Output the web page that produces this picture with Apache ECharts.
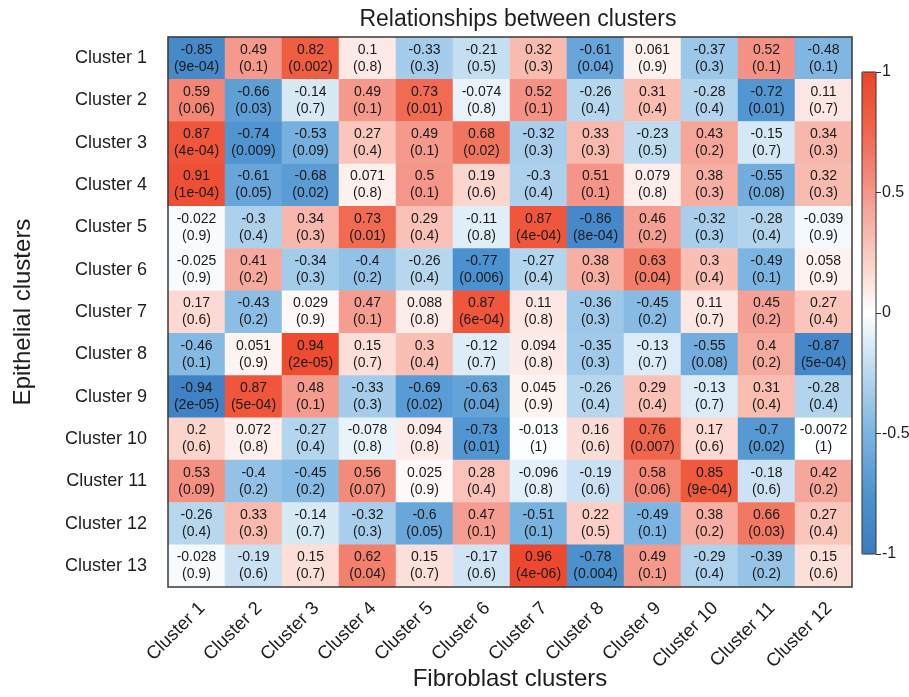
<!DOCTYPE html>
<html>
<head>
<meta charset="utf-8">
<script src="https://cdn.jsdelivr.net/npm/echarts@6/dist/echarts.min.js"></script>
<style>html,body{margin:0;padding:0;background:#fff}#c{width:909px;height:697px}</style>
</head>
<body>
<div id="c"></div>
<script>
const rowLabels = ['Cluster 1','Cluster 2','Cluster 3','Cluster 4','Cluster 5','Cluster 6','Cluster 7','Cluster 8','Cluster 9','Cluster 10','Cluster 11','Cluster 12','Cluster 13'];
const colLabels = ['Cluster 1','Cluster 2','Cluster 3','Cluster 4','Cluster 5','Cluster 6','Cluster 7','Cluster 8','Cluster 9','Cluster 10','Cluster 11','Cluster 12'];

const rValues = [
  ['-0.85','0.49','0.82','0.1','-0.33','-0.21','0.32','-0.61','0.061','-0.37','0.52','-0.48'],
  ['0.59','-0.66','-0.14','0.49','0.73','-0.074','0.52','-0.26','0.31','-0.28','-0.72','0.11'],
  ['0.87','-0.74','-0.53','0.27','0.49','0.68','-0.32','0.33','-0.23','0.43','-0.15','0.34'],
  ['0.91','-0.61','-0.68','0.071','0.5','0.19','-0.3','0.51','0.079','0.38','-0.55','0.32'],
  ['-0.022','-0.3','0.34','0.73','0.29','-0.11','0.87','-0.86','0.46','-0.32','-0.28','-0.039'],
  ['-0.025','0.41','-0.34','-0.4','-0.26','-0.77','-0.27','0.38','0.63','0.3','-0.49','0.058'],
  ['0.17','-0.43','0.029','0.47','0.088','0.87','0.11','-0.36','-0.45','0.11','0.45','0.27'],
  ['-0.46','0.051','0.94','0.15','0.3','-0.12','0.094','-0.35','-0.13','-0.55','0.4','-0.87'],
  ['-0.94','0.87','0.48','-0.33','-0.69','-0.63','0.045','-0.26','0.29','-0.13','0.31','-0.28'],
  ['0.2','0.072','-0.27','-0.078','0.094','-0.73','-0.013','0.16','0.76','0.17','-0.7','-0.0072'],
  ['0.53','-0.4','-0.45','0.56','0.025','0.28','-0.096','-0.19','0.58','0.85','-0.18','0.42'],
  ['-0.26','0.33','-0.14','-0.32','-0.6','0.47','-0.51','0.22','-0.49','0.38','0.66','0.27'],
  ['-0.028','-0.19','0.15','0.62','0.15','-0.17','0.96','-0.78','0.49','-0.29','-0.39','0.15']
];
const pValues = [
  ['9e-04','0.1','0.002','0.8','0.3','0.5','0.3','0.04','0.9','0.3','0.1','0.1'],
  ['0.06','0.03','0.7','0.1','0.01','0.8','0.1','0.4','0.4','0.4','0.01','0.7'],
  ['4e-04','0.009','0.09','0.4','0.1','0.02','0.3','0.3','0.5','0.2','0.7','0.3'],
  ['1e-04','0.05','0.02','0.8','0.1','0.6','0.4','0.1','0.8','0.3','0.08','0.3'],
  ['0.9','0.4','0.3','0.01','0.4','0.8','4e-04','8e-04','0.2','0.3','0.4','0.9'],
  ['0.9','0.2','0.3','0.2','0.4','0.006','0.4','0.3','0.04','0.4','0.1','0.9'],
  ['0.6','0.2','0.9','0.1','0.8','6e-04','0.8','0.3','0.2','0.7','0.2','0.4'],
  ['0.1','0.9','2e-05','0.7','0.4','0.7','0.8','0.3','0.7','0.08','0.2','5e-04'],
  ['2e-05','5e-04','0.1','0.3','0.02','0.04','0.9','0.4','0.4','0.7','0.4','0.4'],
  ['0.6','0.8','0.4','0.8','0.8','0.01','1','0.6','0.007','0.6','0.02','1'],
  ['0.09','0.2','0.2','0.07','0.9','0.4','0.8','0.6','0.06','9e-04','0.6','0.2'],
  ['0.4','0.3','0.7','0.3','0.05','0.1','0.1','0.5','0.1','0.2','0.03','0.4'],
  ['0.9','0.6','0.7','0.04','0.7','0.6','4e-06','0.004','0.1','0.4','0.2','0.6']
];
const colorbarTicks = [-1, -0.5, 0, 0.5, 1];

const heatData = [];
rValues.forEach((row, i) => row.forEach((r, j) => {
  heatData.push({ value: [j, i, parseFloat(r)], rText: r, pText: pValues[i][j] });
}));

const FONT = '"Liberation Sans", Arial, sans-serif';
const TXT = '#1e1e1e';

const chart = echarts.init(document.getElementById('c'), null, { renderer: 'canvas' });
chart.setOption({
  backgroundColor: '#ffffff',
  animation: false,
  title: {
    text: 'Relationships between clusters',
    left: 513, top: 3, textAlign: 'center',
    textStyle: { fontFamily: FONT, fontSize: 23, fontWeight: 'normal', color: TXT }
  },
  grid: [
    { left: 168, top: 37, width: 684, height: 550, show: true, z: 5, containLabel: false,
      outerBoundsMode: 'none',
      backgroundColor: 'rgba(0,0,0,0)', borderColor: '#3a3a3a', borderWidth: 1.5 },
    { left: 862, top: 72, width: 14, height: 482, show: true, z: 5, containLabel: false,
      outerBoundsMode: 'none',
      backgroundColor: 'rgba(0,0,0,0)', borderColor: '#333', borderWidth: 1 }
  ],
  xAxis: [
    { type: 'category', gridIndex: 0, data: colLabels, position: 'bottom',
      axisLine: { show: false }, axisTick: { show: false }, splitArea: { show: false },
      axisLabel: { rotate: 45, fontFamily: FONT, fontSize: 18.5, color: TXT, margin: 24, interval: 0,
        padding: [0, -8, 0, 0] },
      name: 'Fibroblast clusters', nameLocation: 'middle', nameGap: 80, nameMoveOverlap: false,
      nameTextStyle: { fontFamily: FONT, fontSize: 24, color: TXT } },
    { type: 'category', gridIndex: 1, data: [''], show: false }
  ],
  yAxis: [
    { type: 'category', gridIndex: 0, data: rowLabels, inverse: true,
      axisLine: { show: false }, axisTick: { show: false },
      axisLabel: { fontFamily: FONT, fontSize: 18, color: TXT, margin: 21, interval: 0 },
      name: 'Epithelial clusters', nameLocation: 'middle', nameGap: 133, nameMoveOverlap: false,
      nameTextStyle: { fontFamily: FONT, fontSize: 24, color: TXT } },
    { type: 'value', gridIndex: 1, min: -1, max: 1, interval: 0.5, position: 'right',
      axisLine: { show: false },
      axisTick: { show: true, length: 5, inside: false, lineStyle: { color: '#333' } },
      splitLine: { show: false },
      axisLabel: { fontFamily: FONT, fontSize: 16, color: TXT, margin: 6,
        formatter: v => colorbarTicks.indexOf(v) >= 0 ? String(v) : '' } }
  ],
  visualMap: {
    type: 'continuous', seriesIndex: 0, min: -1, max: 1,
    calculable: false, show: true, orient: 'vertical',
    left: 862, top: 72, itemWidth: 14, itemHeight: 482, padding: 0,
    text: null, showLabel: false,
    inRange: { color: ['#3A7CC2', '#4E93D0', '#7BB4E1', '#B9D8EF', '#FFFFFF', '#FAC9BF', '#F4978A', '#F0674D', '#EE4328'] }
  },
  series: [
    { type: 'heatmap', xAxisIndex: 0, yAxisIndex: 0, data: heatData,
      itemStyle: { borderWidth: 0 },
      label: { show: true, fontFamily: FONT, fontSize: 14, color: '#1a1a1a', lineHeight: 17,
        formatter: p => p.data.rText + '\n(' + p.data.pText + ')' },
      emphasis: { disabled: true } },
    { type: 'scatter', xAxisIndex: 1, yAxisIndex: 1, data: [], silent: true }
  ]
});
</script>
</body>
</html>
